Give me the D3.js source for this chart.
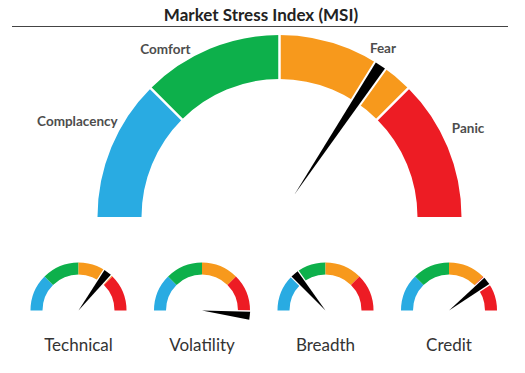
<!DOCTYPE html>
<html>
<head>
<meta charset="utf-8">
<script src="https://cdn.jsdelivr.net/npm/d3@7"></script>
<style>
  body { margin: 0; background: #fff; }
  text { font-family: Lato, "Open Sans", sans-serif; }
</style>
</head>
<body>
<div id="chart"></div>
<script>
// gauge data
const zones = ["Complacency", "Comfort", "Fear", "Panic"];
const zoneBounds = [0, 25, 50, 75, 100];
const zoneColors = ["#29abe2", "#0db04b", "#f7991c", "#ed1c24"];

const mainTitle = "Market Stress Index (MSI)";
const mainValue = 68.7;

const subNames = ["Technical", "Volatility", "Breadth", "Credit"];
const subValues = [70.8, 103.5, 27.7, 78.9];

// set the dimensions
const width = 525, height = 373;

const svg = d3.select("#chart")
  .append("svg")
  .attr("width", width)
  .attr("height", height);

// value -> angle (d3.arc convention, 0 = 12 o'clock)
const angle = d3.scaleLinear().domain([0, 100]).range([-Math.PI / 2, Math.PI / 2]);

function polar(cx, cy, r, a) {
  return [cx + r * Math.sin(a), cy - r * Math.cos(a)];
}

function needlePath(cx, cy, r0, r1, halfW, a) {
  const tip = polar(cx, cy, r1, a);
  const base = polar(cx, cy, r0, a);
  const px = Math.cos(a) * halfW, py = Math.sin(a) * halfW;
  return `M${base[0]},${base[1]}L${tip[0] + px},${tip[1] + py}L${tip[0] - px},${tip[1] - py}Z`;
}

function drawGauge(g, cx, cy, rIn, rOut, value, opts) {
  const arc = d3.arc().innerRadius(rIn).outerRadius(rOut);
  g.selectAll("path.zone")
    .data(zones)
    .join("path")
    .attr("class", "zone")
    .attr("transform", `translate(${cx},${cy})`)
    .attr("d", (d, i) => arc({startAngle: angle(zoneBounds[i]), endAngle: angle(zoneBounds[i + 1])}))
    .attr("fill", (d, i) => zoneColors[i]);

  if (opts.gap) {
    // white separators between zones
    g.selectAll("line.sep")
      .data(zoneBounds.slice(1, -1))
      .join("line")
      .attr("class", "sep")
      .attr("x1", d => polar(cx, cy, rIn - 1, angle(d))[0])
      .attr("y1", d => polar(cx, cy, rIn - 1, angle(d))[1])
      .attr("x2", d => polar(cx, cy, rOut + 1, angle(d))[0])
      .attr("y2", d => polar(cx, cy, rOut + 1, angle(d))[1])
      .attr("stroke", "#fff")
      .attr("stroke-width", opts.gap);
  }

  const d = needlePath(cx, cy, opts.r0, rOut, opts.halfW, angle(value));
  // white halo, then the black needle on top
  g.append("path")
    .attr("d", d)
    .attr("fill", "#fff")
    .attr("stroke", "#fff")
    .attr("stroke-width", opts.halo)
    .attr("stroke-linejoin", "round");
  g.append("path")
    .attr("d", d)
    .attr("fill", "#000");
}

// title
svg.append("text")
  .attr("x", 261)
  .attr("y", 21)
  .attr("text-anchor", "middle")
  .attr("font-size", "17px")
  .attr("font-weight", "bold")
  .attr("fill", "#222")
  .text(mainTitle);

svg.append("line")
  .attr("x1", 12).attr("x2", 508)
  .attr("y1", 26.5).attr("y2", 26.5)
  .attr("stroke", "#444")
  .attr("stroke-width", 1);

// main gauge
const mainCx = 279.5, mainCy = 217, mainIn = 138, mainOut = 182;
const mainG = svg.append("g");
drawGauge(mainG, mainCx, mainCy, mainIn, mainOut, mainValue, {gap: 2.5, r0: 27, halfW: 5.5, halo: 4});

// zone labels around the main gauge (angle in gauge units, radius, anchor)
const labelPlace = [
  {v: 17, r: 188, anchor: "end"},
  {v: 31, r: 203, anchor: "middle"},
  {v: 67.5, r: 198, anchor: "middle"},
  {v: 84.8, r: 194, anchor: "start"}
];
mainG.selectAll("text.zone-label")
  .data(zones)
  .join("text")
  .attr("class", "zone-label")
  .attr("x", (d, i) => polar(mainCx, mainCy, labelPlace[i].r, angle(labelPlace[i].v))[0])
  .attr("y", (d, i) => polar(mainCx, mainCy, labelPlace[i].r, angle(labelPlace[i].v))[1])
  .attr("dy", "0.35em")
  .attr("text-anchor", (d, i) => labelPlace[i].anchor)
  .attr("font-size", "13.5px")
  .attr("font-weight", "bold")
  .attr("fill", "#4d4d4d")
  .text(d => d);

// small gauges
const subX = d3.scalePoint().domain(subNames).range([78.5, 449]);
const subCy = 310.5, subIn = 36, subOut = 48;

subNames.forEach((name, i) => {
  const g = svg.append("g");
  const cx = subX(name);
  drawGauge(g, cx, subCy, subIn, subOut, subValues[i], {gap: 0, r0: 0, halfW: 4, halo: 2.5});
  g.append("text")
    .attr("x", cx)
    .attr("y", 350.5)
    .attr("text-anchor", "middle")
    .attr("font-size", "17px")
    .attr("fill", "#333")
    .text(name);
});
</script>
</body>
</html>
